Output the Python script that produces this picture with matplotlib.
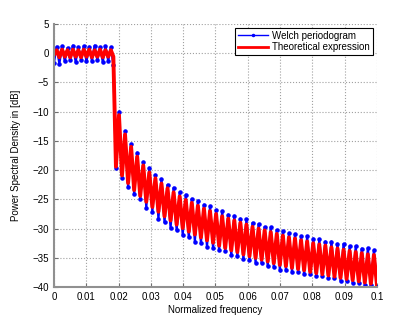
import numpy as np
import matplotlib
matplotlib.use("Agg")
import matplotlib.pyplot as plt

plt.rcParams['font.family'] = ['Liberation Sans', 'DejaVu Sans']

# passband ripple, one value per ripple lobe (dB)
pb_step = 0.00168
red_pass_lo = [-0.3, -0.7, -0.6, -0.7, -0.6, -0.7, -0.6, -0.7, -0.6, -0.7, -0.6]
red_pass_hi = [0.5, 0.6, 0.5, 0.6, 0.5, 0.6, 0.6, 0.5, 0.6, 0.5, 0.5]
blue_pass_lo = [-1.6, -1.8, -1.4, -1.2, -1.5, -1.1, -1.4, -1.3, -1.2, -1.5, -1.3]
blue_pass_hi = [1.1, 1.2, 0.9, 1.3, 1.0, 1.2, 1.1, 1.3, 1.0, 1.2, 1.0]
pb_edge = 0.0184
red_edge = -0.6
blue_edge = -2.0

# stopband lobes: nulls and peaks (dB)
sb_start = 0.0192
sb_step = 0.00188
red_nulls = [-19.4, -20.9, -22.2, -23.4, -24.4, -25.4, -26.3, -27.1, -27.9, -28.6,
             -29.3, -29.9, -30.5, -31.0, -31.5, -32.0, -32.4, -32.9, -33.3, -33.7,
             -34.0, -34.4, -34.7, -35.0, -35.3, -35.6, -35.9, -36.2, -36.4, -36.7,
             -36.9, -37.1, -37.4, -37.6, -37.8, -38.0, -38.2, -38.4, -38.6, -38.8,
             -39.0, -39.2, -39.4, -39.6]
red_peaks = [-10.6, -13.9, -16.0, -17.7, -19.2, -20.4, -21.4, -22.3, -23.1, -23.8,
             -24.5, -25.1, -25.6, -26.1, -26.6, -27.0, -27.5, -27.9, -28.3, -28.6,
             -29.0, -29.3, -29.7, -30.0, -30.3, -30.6, -30.9, -31.2, -31.5, -31.7,
             -32.0, -32.2, -32.5, -32.7, -32.9, -33.2, -33.4, -33.6, -33.8, -34.0,
             -34.2, -34.4, -34.5]
blue_nulls = [-19.6, -21.4, -22.8, -24.1, -25.0, -26.4, -27.1, -28.3, -28.9, -29.9,
              -30.3, -31.1, -31.5, -32.2, -32.5, -33.1, -33.3, -33.7, -33.9, -34.5,
              -34.7, -35.2, -35.3, -35.8, -35.9, -36.4, -36.5, -37.0, -37.0, -37.4,
              -37.4, -37.8, -37.7, -38.1, -38.1, -38.5, -38.5, -38.9, -38.9, -39.3,
              -39.3, -39.6, -39.6, -39.9]
blue_peaks = [-10.0, -13.3, -15.5, -17.0, -18.6, -19.6, -20.8, -21.5, -22.5, -23.0,
              -23.8, -24.2, -24.9, -25.2, -25.9, -26.2, -26.8, -27.0, -27.6, -27.8,
              -28.3, -28.4, -29.0, -29.2, -29.7, -29.8, -30.3, -30.4, -30.8, -30.9,
              -31.3, -31.3, -31.7, -31.8, -32.2, -32.2, -32.6, -32.6, -33.0, -33.0,
              -33.4, -33.3, -33.7]


def build(pass_lo, pass_hi, edge, nulls, peaks):
    xs, ys = [], []
    for k in range(len(pass_lo)):
        xs += [k * pb_step, k * pb_step + pb_step / 2]
        ys += [pass_lo[k], pass_hi[k]]
    xs.append(pb_edge)
    ys.append(edge)
    for k in range(len(nulls)):
        xs.append(sb_start + k * sb_step)
        ys.append(nulls[k])
        if k < len(peaks):
            xs.append(sb_start + k * sb_step + sb_step / 2)
            ys.append(peaks[k])
    return xs, ys


bx, by = build(blue_pass_lo, blue_pass_hi, blue_edge, blue_nulls, blue_peaks)
rx, ry = build(red_pass_lo, red_pass_hi, red_edge, red_nulls, red_peaks)

fig = plt.figure(figsize=(4.15, 3.23), dpi=100)
ax = fig.add_axes([0.130, 0.111, 0.778, 0.815])

ax.plot(bx, by, color='b', marker='.', ms=4.5, lw=1.6, label='Welch periodogram',
        solid_joinstyle='round')
ax.plot(rx, ry, color='r', lw=2.8, label='Theoretical expression',
        solid_joinstyle='round')

ax.set_xlim(0, 0.1)
ax.set_ylim(-40, 5)
xt = np.arange(0, 0.1001, 0.01)
ax.set_xticks(xt)
ax.set_xticklabels(['0'] + ['%.2g' % v for v in xt[1:]])
ax.set_yticks(np.arange(-40, 6, 5))
ax.tick_params(direction='in', length=3, labelsize=7, color='#707070',
               top=False, right=False)
ax.grid(True, linestyle=':', color='#a0a0a0', lw=0.8)
ax.spines['top'].set_visible(False)
ax.spines['right'].set_visible(False)
for s in ('left', 'bottom'):
    ax.spines[s].set_color('#909090')
    ax.spines[s].set_linewidth(1.5)

ax.set_xlabel('Normalized frequency', fontsize=7, labelpad=2)
ax.set_ylabel('Power Spectral Density in [dB]', fontsize=7, labelpad=8)

leg = ax.legend(loc='upper right', bbox_to_anchor=(0.987, 0.985), fontsize=7,
                fancybox=False, framealpha=1, edgecolor='black', numpoints=1,
                handlelength=3.1, borderpad=0.3, labelspacing=0.15,
                handletextpad=0.4, borderaxespad=0)
leg.get_frame().set_linewidth(0.8)
leg.legend_handles[0].set_markersize(3)
leg.legend_handles[0].set_linewidth(1.0)
leg.legend_handles[1].set_linewidth(2.0)

fig.savefig('out.png', dpi=100)
